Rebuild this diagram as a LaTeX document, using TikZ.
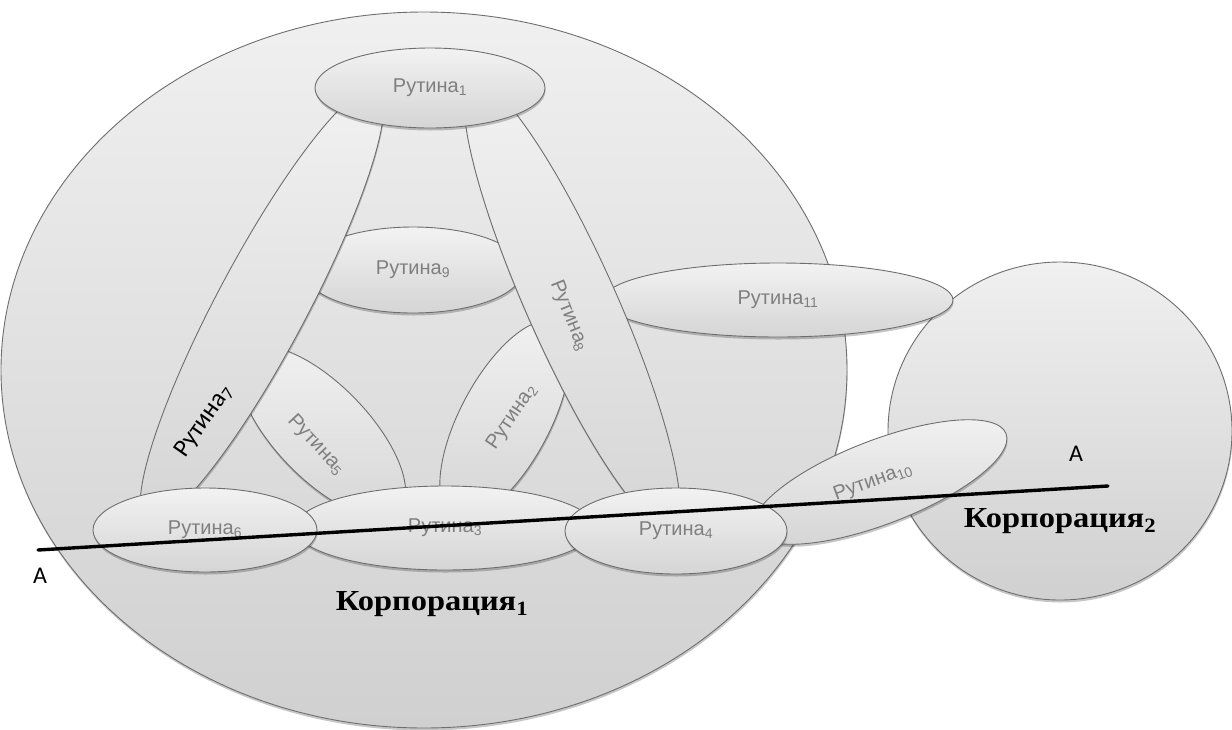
\documentclass[tikz,border=0pt]{standalone}
\usepackage{fontspec}
\setmainfont{Liberation Sans}
\newfontfamily\calfont{Carlito}
\newfontfamily\serfont[FakeStretch=1.12]{Liberation Serif}
\usetikzlibrary{shapes.geometric,shadows}
\definecolor{edgecol}{HTML}{6E6E6E}
\definecolor{topcol}{HTML}{F2F2F2}
\definecolor{botcol}{HTML}{D5D5D5}
\definecolor{ctop}{HTML}{F0F0F0}
\definecolor{cbot}{HTML}{D0D0D0}
\definecolor{txtcol}{HTML}{7F7F7F}
\tikzset{
  softshadow/.style={drop shadow={shadow xshift=0.5pt, shadow yshift=-2.5pt, opacity=0.22, fill=black}},
  corp/.style={ellipse, draw=edgecol, line width=0.9pt, top color=ctop, bottom color=cbot, inner sep=0pt, softshadow},
  routine/.style={ellipse, draw=edgecol, line width=0.9pt, top color=topcol, bottom color=botcol, inner sep=0pt, softshadow, font=\fontsize{20}{24}\selectfont, text=txtcol},
  rtext/.style={font=\fontsize{20}{24}\selectfont, text=txtcol, inner sep=0pt},
  corptext/.style={font=\serfont\bfseries\fontsize{29}{34}\selectfont, text=black, inner sep=0pt},
  atext/.style={font=\calfont\fontsize{24}{28}\selectfont, text=black, inner sep=0pt},
  aaline/.style={line width=3.4pt, line cap=round, black}
}
\begin{document}
\begin{tikzpicture}[x=1pt,y=-1pt]
\useasboundingbox[fill=white] (0,0) rectangle (1232,729);
% corporations
\node[corp, minimum width=846pt, minimum height=716pt] (c1) at (424,370) {};
\node[corp, minimum width=344pt, minimum height=338pt] (c2) at (1060,431) {};
% routines, back to front
\node[routine, minimum width=350pt, minimum height=74pt] (r11) at (778,300) {Рутина\textsubscript{11}};
\node[routine, minimum width=220pt, minimum height=86pt] (r9) at (413,270) {Рутина\textsubscript{9}};
\node[routine, minimum width=220pt, minimum height=94pt, rotate=-46] (r5) at (322,432) {};
\node[rtext, rotate=-47] (t5) at (316,445) {Рутина\textsubscript{5}};
\node[routine, minimum width=220pt, minimum height=90pt, rotate=62] (r2) at (505,420) {};
\node[rtext, rotate=56] (t2) at (512,417) {Рутина\textsubscript{2}};
\node[routine, minimum width=490pt, minimum height=90pt, rotate=62] (r7) at (262,305) {};
\node[rtext, rotate=55, text=black, font=\calfont\fontsize{25}{29}\selectfont] (t7) at (204,421) {Рутина\textsubscript{7}};
\node[routine, minimum width=490pt, minimum height=90pt, rotate=-66] (r8) at (572,305) {};
\node[rtext, rotate=-68] (t8) at (569,316) {Рутина\textsubscript{8}};
\node[routine, minimum width=230pt, minimum height=80pt] (r1) at (430,88) {Рутина\textsubscript{1}};
\node[routine, minimum width=270pt, minimum height=84pt, rotate=21] (r10) at (880,482) {};
\node[rtext, rotate=20] (t10) at (873,482) {Рутина\textsubscript{10}};
\node[routine, minimum width=300pt, minimum height=84pt] (r3) at (445,528) {Рутина\textsubscript{3}};
\node[routine, minimum width=224pt, minimum height=84pt] (r6) at (205,530) {Рутина\textsubscript{6}};
\node[routine, minimum width=222pt, minimum height=86pt] (r4) at (676,531) {Рутина\textsubscript{4}};
% section line A-A
\coordinate (a1) at (38,550);
\coordinate (a2) at (1108,486);
\draw[aaline] (a1) -- (a2);
\node[atext] (la1) at (40,576) {A};
\node[atext] (la2) at (1076,454) {A};
% labels
\node[corptext] (lc1) at (432,604) {Корпорация\textsubscript{1}};
\node[corptext] (lc2) at (1060,521) {Корпорация\textsubscript{2}};
\end{tikzpicture}
\end{document}
